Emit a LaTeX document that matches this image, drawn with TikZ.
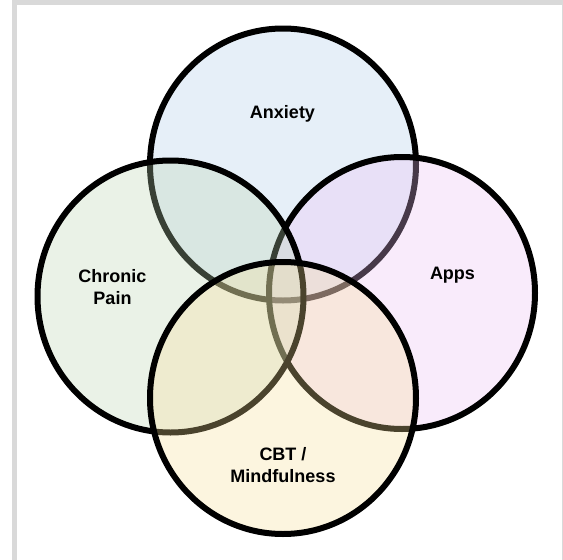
\documentclass[tikz,border=0pt]{standalone}
\usepackage{fontspec}
\setmainfont{Liberation Sans}
\usetikzlibrary{shapes.geometric}

\definecolor{anxfill}{RGB}{175,205,232}
\definecolor{painfill}{RGB}{188,215,178}
\definecolor{appsfill}{RGB}{238,192,245}
\definecolor{cbtfill}{RGB}{248,222,152}
\definecolor{framegray}{RGB}{217,217,217}

\begin{document}
\begin{tikzpicture}[x=1pt, y=-1pt,
    venn/.style={ellipse, draw=black, line width=6pt, fill opacity=0.3,
        draw opacity=1, inner sep=0pt, minimum width=266pt, minimum height=272pt},
    lbl/.style={font=\bfseries\fontsize{18}{22}\selectfont, text=black,
        align=center, inner sep=0pt}]
    \useasboundingbox (0,0) rectangle (563,560);

    % Frame round the page
    \fill[white] (0,0) rectangle (563,560);
    \fill[framegray] (12,0) rectangle (563,560);
    \fill[white] (17,5) rectangle (561.5,560);

    % The four sets, drawn in this order
    \node[venn, fill=anxfill]  (anx)  at (283,164.5) {};
    \node[venn, fill=appsfill] (apps) at (402,293)   {};
    \node[venn, fill=painfill] (pain) at (170.5,296.5) {};
    \node[venn, fill=cbtfill]  (cbt)  at (283,398)   {};

    % Set labels
    \node[lbl, anchor=base] (anxlbl)  at (282.5,118) {Anxiety};
    \node[lbl, anchor=base] (appslbl) at (452.5,279) {Apps};
    \node[lbl] (painlbl) at (112.5,286.6) {Chronic\\Pain};
    \node[lbl] (cbtlbl)  at (283,464.9)   {CBT /\\Mindfulness};
\end{tikzpicture}
\end{document}
